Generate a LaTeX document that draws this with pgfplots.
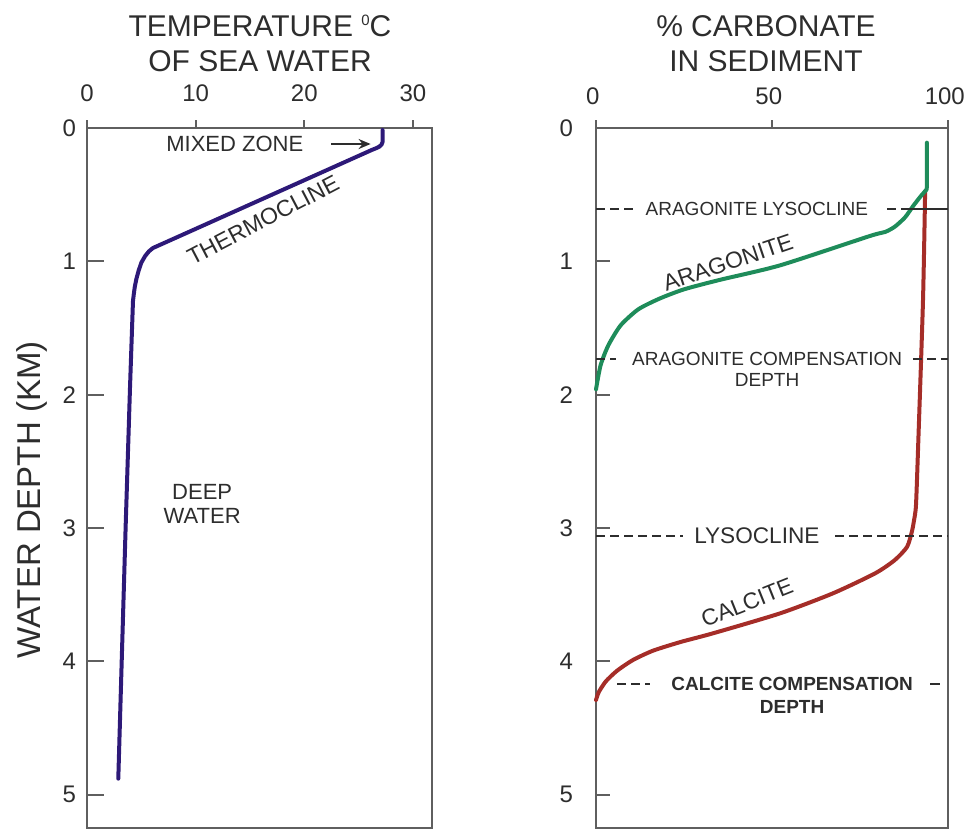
\documentclass[border=0pt]{standalone}
\usepackage{pgfplots}
\pgfplotsset{compat=1.18}
\usepackage{fontspec}
\setmainfont{Liberation Sans}
\usetikzlibrary{arrows.meta}
\definecolor{navy}{RGB}{45,25,120}
\definecolor{agreen}{RGB}{30,140,90}
\definecolor{cred}{RGB}{165,45,40}
\definecolor{axgray}{RGB}{95,95,95}
\definecolor{txt}{RGB}{45,45,45}
\begin{document}
\begin{tikzpicture}
\useasboundingbox (0,0) rectangle (482.5pt,-414.5pt);
\pgfplotsset{
  common/.style={
    scale only axis, height=350pt,
    y dir=reverse, ymin=0, ymax=5.25, ytick={0,1,2,3,4,5},
    axis line style={axgray, line width=1pt},
    tick style={axgray, line width=1pt},
    xtick pos=right, xticklabel pos=right,
    ytick pos=left, yticklabel pos=left,
    xtick align=outside, ytick align=inside,
    xtick style={/pgfplots/major tick length=4pt},
    /pgf/number format/assume math mode=true,
    ticklabel style={font=\fontsize{12}{14}\selectfont, text=txt},
    xticklabel style={yshift=1.3pt},
    clip=false,
  }
}
% ---------------- left panel ----------------
\begin{axis}[common, at={(43.5pt,-64pt)}, anchor=north west, width=172.5pt,
  xmin=0, xmax=31.75, xtick={0,10,20,30},
  major tick length=8.5pt, yticklabel style={xshift=-2pt}]
\addplot[navy, line width=2pt, line cap=round, line join=round] coordinates {
 (27.2,0.015) (27.2,0.105) (27.1,0.125) (26.9,0.14) (26.6,0.152) (26.2,0.165)
 (6.07,0.90) (5.7,0.925) (5.35,0.96) (5.0,1.01) (4.75,1.07) (4.55,1.13)
 (4.4,1.19) (4.3,1.25) (4.23,1.30) (3.96,1.94) (3.56,2.98) (3.19,4.01) (2.88,4.88)};
\addplot[txt, line width=1pt, -{Stealth[length=6pt,width=5pt]}] coordinates {(22.5,0.12) (26.1,0.12)};
\node[txt, font=\fontsize{11}{13}\selectfont] at (axis cs:13.6,0.12) {MIXED ZONE};
\node[txt, font=\fontsize{11.5}{13}\selectfont, rotate=27.6] at (axis cs:16.2,0.69) {THERMOCLINE};
\node[txt, font=\fontsize{11}{13}\selectfont] at (axis cs:10.6,2.73) {DEEP};
\node[txt, font=\fontsize{11}{13}\selectfont] at (axis cs:10.6,2.91) {WATER};
\end{axis}
% ---------------- right panel ----------------
\begin{axis}[common, at={(298pt,-64pt)}, anchor=north west, width=176pt,
  xmin=0, xmax=100, xtick={0,50,100},
  major tick length=7pt, yticklabel style={xshift=-8pt},
  xticklabel style={xshift=-1.6pt}]
\addplot[cred, line width=2pt, line cap=round, line join=round, smooth, tension=0.4] coordinates {
 (93.5,0.48) (92.9,1.29) (91.5,2.40) (90.9,2.83) (90.3,2.95) (89.8,3.02) (88.4,3.14)
 (84.9,3.24) (79.3,3.34) (67.3,3.49) (52.3,3.64) (33.2,3.79) (24,3.855) (16.2,3.92)
 (10.5,3.99) (6,4.07) (2.8,4.15) (0.8,4.23) (0,4.29)};
\addplot[agreen, line width=2pt, line cap=round, line join=round, smooth, tension=0.4] coordinates {
 (94.0,0.11) (94.0,0.435) (93.6,0.47) (92.3,0.51) (90.1,0.585) (87.8,0.67) (84.9,0.74)
 (82.1,0.78) (77.8,0.81) (52.3,1.03) (35,1.14) (25,1.21) (18,1.28) (12,1.36) (7,1.48)
 (3.5,1.63) (1.3,1.78) (0,1.96)};
% dashed reference levels
\addplot[txt, line width=1pt, dash pattern=on 4.5pt off 2.5pt] coordinates {(0,0.61) (10.5,0.61)};
\addplot[txt, line width=1pt, dash pattern=on 4.5pt off 2.5pt on 40pt off 0pt] coordinates {(82.7,0.61) (100,0.61)};
\node[txt, font=\fontsize{9.5}{11}\selectfont] at (axis cs:45.7,0.61) {ARAGONITE LYSOCLINE};
\addplot[txt, line width=1pt, dash pattern=on 4.5pt off 2.5pt] coordinates {(0,1.73) (5.7,1.73)};
\addplot[txt, line width=1pt, dash pattern=on 4.5pt off 2.5pt] coordinates {(90,1.73) (100,1.73)};
\node[txt, font=\fontsize{9.5}{11}\selectfont] at (axis cs:48.6,1.73) {ARAGONITE COMPENSATION};
\node[txt, font=\fontsize{9.5}{11}\selectfont] at (axis cs:48.6,1.89) {DEPTH};
\addplot[txt, line width=1pt, dash pattern=on 4.5pt off 2.5pt] coordinates {(0,3.06) (24.7,3.06)};
\addplot[txt, line width=1pt, dash pattern=on 4.5pt off 2.5pt] coordinates {(67.9,3.06) (100,3.06)};
\node[txt, font=\fontsize{11.3}{13}\selectfont] at (axis cs:45.7,3.06) {LYSOCLINE};
\addplot[txt, line width=1pt, dash pattern=on 4.5pt off 2.5pt] coordinates {(6,4.17) (15.3,4.17)};
\addplot[txt, line width=1pt] coordinates {(94.9,4.17) (97.7,4.17)};
\node[txt, font=\bfseries\fontsize{9.5}{11}\selectfont] at (axis cs:55.7,4.17) {CALCITE COMPENSATION};
\node[txt, font=\bfseries\fontsize{9.5}{11}\selectfont] at (axis cs:55.7,4.34) {DEPTH};
\node[txt, font=\fontsize{11.5}{13}\selectfont, rotate=18.7] at (axis cs:37.5,1.01) {ARAGONITE};
\node[txt, font=\fontsize{11.4}{13}\selectfont, rotate=21.8] at (axis cs:42.9,3.56) {CALCITE};
\end{axis}
% titles and y label
\node[txt, anchor=base, font=\fontsize{15}{18}\selectfont] at (130pt,-18.5pt) {TEMPERATURE \raisebox{0.75ex}{\fontsize{7.5}{8}\selectfont 0}C};
\node[txt, anchor=base, font=\fontsize{15}{18}\selectfont] at (130pt,-36pt) {OF SEA WATER};
\node[txt, anchor=base, font=\fontsize{15}{18}\selectfont] at (383pt,-18.5pt) {\% CARBONATE};
\node[txt, anchor=base, font=\fontsize{15}{18}\selectfont] at (383pt,-36pt) {IN SEDIMENT};
\node[txt, rotate=90, font=\fontsize{16.5}{19}\selectfont] at (16pt,-250pt) {WATER DEPTH (KM)};
\end{tikzpicture}
\end{document}
